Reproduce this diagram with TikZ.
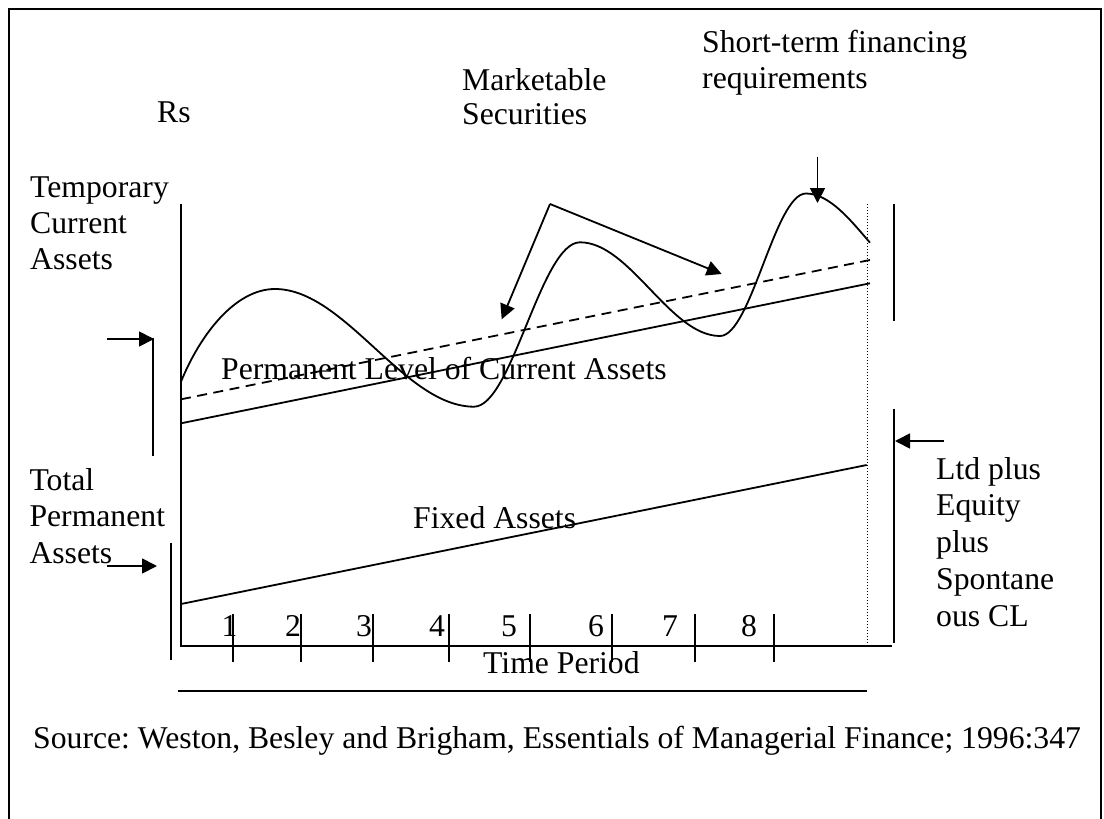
\documentclass[tikz,border=0pt]{standalone}
\usepackage{fontspec}
\setmainfont{Liberation Serif}
\frenchspacing
\usetikzlibrary{arrows.meta}
\tikzset{
  lbl/.style={inner sep=0pt, anchor=base west, font=\fontsize{31.7}{36.7}\selectfont},
  ln/.style={line width=1.8pt},
  arr/.style={line width=1.8pt, -{Triangle[length=15pt,width=15pt]}},
  tick/.style={line width=1.8pt},
}
\begin{document}
\begin{tikzpicture}[x=1pt,y=-1pt]
\useasboundingbox (0,0) rectangle (1104,819);
% frame
\draw[line width=2.5pt] (9,840) -- (9,9) -- (1101,9) -- (1101,840);

% axes
\coordinate (ytop) at (181,204);
\coordinate (orig) at (181,646);
\coordinate (xend) at (892,646);
\draw[ln] (ytop) -- (orig) -- (xend);

% ticks
\foreach \x/\n in {233/1,301/2,373/3,449/4,530/5,612/6,695/7,774/8}{
  \coordinate (t\n a) at (\x,614);
  \coordinate (t\n b) at (\x,662);
  \draw[tick] (t\n a) -- (t\n b);
}
\node[lbl] (n1) at (221.5,636.7) {1};
\node[lbl] (n2) at (285,636.7) {2};
\node[lbl] (n3) at (356,636.7) {3};
\node[lbl] (n4) at (429,636.7) {4};
\node[lbl] (n5) at (501,636.7) {5};
\node[lbl] (n6) at (588,636.7) {6};
\node[lbl] (n7) at (662,636.7) {7};
\node[lbl] (n8) at (741,636.7) {8};
\node[lbl] (tp) at (483,673.3) {Time Period};

% bottom line
\coordinate (bl1) at (178,691);
\coordinate (bl2) at (867,691);
\draw[ln] (bl1) -- (bl2);

% dotted vertical
\coordinate (dv1) at (867,204);
\coordinate (dv2) at (867,645);
\draw[line width=1pt, dotted] (dv1) -- (dv2);

% fixed assets line
\coordinate (fa1) at (181,604);
\coordinate (fa2) at (866.7,465);
\draw[ln] (fa1) -- (fa2);
\node[lbl] (fixed) at (413,528) {Fixed Assets};

% permanent level (solid) and dashed
\coordinate (pl1) at (181,423.3);
\coordinate (pl2) at (870,283.3);
\draw[ln] (pl1) -- (pl2);
\coordinate (dl1) at (181,399.3);
\coordinate (dl2) at (870,260);
\draw[ln, dash pattern=on 10pt off 6.5pt] (dl1) -- (dl2);
\node[lbl] (perm) at (221,379.3) {Permanent Level of Current Assets};

% wave
\coordinate (w0) at (181,381.7);
\coordinate (w1) at (275,289);
\coordinate (w2) at (474,406.7);
\coordinate (w3) at (580,242.3);
\coordinate (w4) at (720,336);
\coordinate (w5) at (806,193.5);
\coordinate (w6) at (870,242.7);
\draw[ln] (w0) .. controls (200,335) and (235,289) .. (w1)
  .. controls (345,289) and (404,406.7) .. (w2)
  .. controls (512,406.7) and (541,242.3) .. (w3)
  .. controls (630,242.3) and (670,336) .. (w4)
  .. controls (751,336) and (775,193.5) .. (w5)
  .. controls (830,193.5) and (852,222) .. (w6);

% marketable securities arrows
\coordinate (mv) at (550,204);
\coordinate (mt1) at (501.7,319.3);
\coordinate (mt2) at (721.7,274);
\draw[arr] (mv) -- (mt1);
\draw[arr] (mv) -- (mt2);
\node[lbl] (mk1) at (462,90) {Marketable};
\node[lbl] (mk2) at (462,124) {Securities};

% short-term arrow
\coordinate (st0) at (817.5,156.7);
\coordinate (st1) at (817.5,203);
\draw[arr] (st0) -- (st1);
\node[lbl] (st1t) at (702,52) {Short-term financing};
\node[lbl] (st2t) at (702,88) {requirements};

% Rs
\node[lbl] (rs) at (157,122) {Rs};

% left labels
\node[lbl] (tc1) at (30,197) {Temporary};
\node[lbl] (tc2) at (30,233.3) {Current};
\node[lbl] (tc3) at (30,269.3) {Assets};
\coordinate (a1s) at (106.7,339);
\coordinate (a1e) at (154,339);
\draw[arr] (a1s) -- (a1e);
\coordinate (b1t) at (153.3,338);
\coordinate (b1b) at (153.3,456);
\draw[ln] (b1t) -- (b1b);

\node[lbl] (tp1) at (29.3,490) {Total};
\node[lbl] (tp2) at (29.3,526.7) {Permanent};
\node[lbl] (tp3) at (29.3,563.3) {Assets};
\coordinate (a2s) at (106.7,566);
\coordinate (a2e) at (157,566);
\draw[arr] (a2s) -- (a2e);
\coordinate (b2t) at (171,542.7);
\coordinate (b2b) at (171,660);
\draw[ln] (b2t) -- (b2b);

% right brackets
\coordinate (r1t) at (894.3,204);
\coordinate (r1b) at (894.3,320.7);
\draw[ln] (r1t) -- (r1b);
\coordinate (r2t) at (894.3,408.7);
\coordinate (r2b) at (894.3,642.7);
\draw[ln] (r2t) -- (r2b);
\coordinate (a3s) at (944.3,441);
\coordinate (a3e) at (895,441);
\draw[arr] (a3s) -- (a3e);
\node[lbl] (lt1) at (936,479.3) {Ltd plus};
\node[lbl] (lt2) at (936,515.5) {Equity};
\node[lbl] (lt3) at (936,552) {plus};
\node[lbl] (lt4) at (936,589) {Spontane};
\node[lbl] (lt5) at (936,626) {ous CL};

% source
\node[lbl] (src) at (33,748) {Source: Weston, Besley and Brigham, Essentials of Managerial Finance; 1996:347};
\end{tikzpicture}
\end{document}
